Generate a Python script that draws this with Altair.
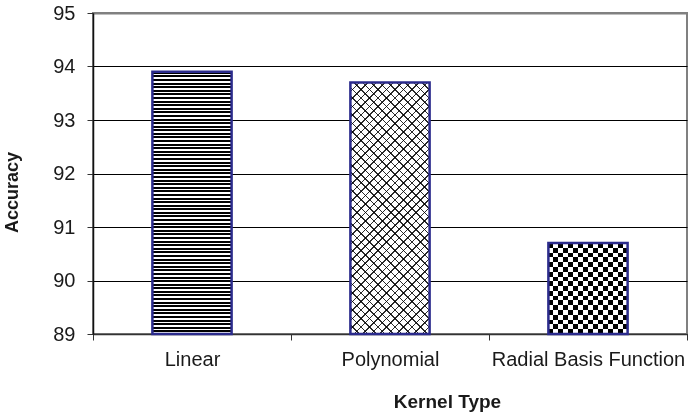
import math
import altair as alt
import pandas as pd

# Accuracy of an SVM classifier for each kernel type
kernels = ["Linear", "Polynomial", "Radial Basis Function"]
accuracy = [93.9, 93.7, 90.7]
y_ticks = [89, 90, 91, 92, 93, 94, 95]

df = pd.DataFrame({"kernel": kernels, "accuracy": accuracy})

# plot-area geometry (pixels) used to size the fill textures
W, H = 594, 321
Y_MIN, Y_MAX = y_ticks[0], y_ticks[-1]
PX_PER_UNIT = H / (Y_MAX - Y_MIN)
BAND = 0.4
BAR_W = W / len(kernels) * BAND

FONT = "Liberation Sans"
TEXT = "#1a1a1a"
NAVY = "#2b2b8c"


def bar_height(v):
    return (v - Y_MIN) * PX_PER_UNIT


def stripe_stops(n, first, second, frac):
    """n repeats of [first for frac of the period, second for the rest]."""
    stops = []
    for k in range(n):
        a, b, c = k / n, (k + frac) / n, (k + 1) / n
        stops += [
            {"offset": round(a, 5), "color": first},
            {"offset": round(b, 5), "color": first},
            {"offset": round(b, 5), "color": second},
            {"offset": round(c, 5), "color": second},
        ]
    return stops


def cell_stops(n, first, second):
    """n equal cells alternating between two colours."""
    stops = []
    for k in range(n):
        col = first if k % 2 == 0 else second
        stops += [
            {"offset": round(k / n, 5), "color": col},
            {"offset": round((k + 1) / n, 5), "color": col},
        ]
    return stops


def diagonal(w, h, period, line_px, color, rising):
    """45-degree hatch lines inside a w x h box (bounding-box gradient units)."""
    s = (w + h) / (w * w + h * h)
    span = (w + h) / math.sqrt(2)
    n = max(1, round(span / period))
    frac = line_px / (span / n)
    stops = stripe_stops(n, color, "#ffffff", frac)
    if rising:
        x1, y1, x2, y2 = 0, 0, s * w, s * h
    else:
        x1, y1, x2, y2 = 0, 1, s * w, 1 - s * h
    return {"gradient": "linear", "x1": x1, "y1": y1, "x2": x2, "y2": y2, "stops": stops}


# Linear: horizontal black/white stripes
h_lin = bar_height(accuracy[0])
lin_fill = {
    "gradient": "linear", "x1": 0, "y1": 0, "x2": 0, "y2": 1,
    "stops": stripe_stops(round(h_lin / 3.6), "#000000", "#ffffff", 0.55),
}

# Polynomial: fine cross-hatched mesh
h_poly = bar_height(accuracy[1])
poly_a = diagonal(BAR_W, h_poly, 6.0, 1.1, "#2a2a2a", True)
poly_b = diagonal(BAR_W, h_poly, 6.0, 1.1, "#2a2a2a", False)

# Radial Basis Function: checkerboard from rows XOR columns
h_rbf = bar_height(accuracy[2])
rbf_rows = {
    "gradient": "linear", "x1": 0, "y1": 0, "x2": 0, "y2": 1,
    "stops": cell_stops(round(h_rbf / 4.8), "#000000", "#ffffff"),
}
rbf_cols = {
    "gradient": "linear", "x1": 0, "y1": 0, "x2": 1, "y2": 0,
    "stops": cell_stops(16, "#000000", "#ffffff"),
}

x_enc = alt.X(
    "kernel:N",
    sort=kernels,
    scale=alt.Scale(paddingInner=0, paddingOuter=0),
    axis=alt.Axis(
        title="Kernel Type",
        labelAngle=0,
        labelFont=FONT,
        labelFontSize=20,
        labelColor=TEXT,
        labelPadding=9,
        labelLimit=400,
        tickBand="extent",
        tickSize=6,
        tickColor="#333333",
        domainColor="#333333",
        domainWidth=1.5,
        titleFont=FONT,
        titleFontSize=19,
        titleFontWeight="bold",
        titleColor=TEXT,
        titleAlign="center",
        titleBaseline="alphabetic",
        titleAnchor="start",
        titleX=354,
        titleY=73,
    ),
)
y_enc = alt.Y(
    "accuracy:Q",
    scale=alt.Scale(domain=[Y_MIN, Y_MAX], zero=False, nice=False),
    axis=alt.Axis(
        title="Accuracy",
        values=y_ticks,
        format="d",
        labelFont=FONT,
        labelFontSize=20,
        labelColor=TEXT,
        labelPadding=12,
        tickSize=6,
        tickColor="#333333",
        domainColor="#111111",
        domainWidth=1.5,
        gridColor={"condition": {"test": "datum.value >= 95", "value": "#808080"}, "value": "#000000"},
        gridWidth={"condition": {"test": "datum.value >= 95", "value": 2}, "value": 1},
        titleFont=FONT,
        titleFontSize=18,
        titleFontWeight="bold",
        titleColor=TEXT,
        titleAngle=270,
        titleAlign="center",
        titleBaseline="middle",
        titleAnchor="start",
        titleX=-81,
        titleY=179,
    ),
)

base = alt.Chart(df).encode(x=x_enc, y=y_enc, y2=alt.datum(Y_MIN))
bw = alt.RelativeBandSize(band=BAND)


def only(name):
    return alt.datum.kernel == name


linear = base.transform_filter(only("Linear")).mark_bar(width=bw, fill=lin_fill)
poly1 = base.transform_filter(only("Polynomial")).mark_bar(width=bw, fill=poly_a)
poly2 = base.transform_filter(only("Polynomial")).mark_bar(width=bw, fill=poly_b, blend="multiply")
rbf1 = base.transform_filter(only("Radial Basis Function")).mark_bar(width=bw, fill=rbf_rows)
rbf2 = base.transform_filter(only("Radial Basis Function")).mark_bar(
    width=bw, fill=rbf_cols, blend="difference"
)
outline = base.mark_bar(width=bw, filled=False, stroke=NAVY, strokeWidth=2.5)

chart = (
    alt.layer(linear, poly1, poly2, rbf1, rbf2, outline)
    .properties(
        width=W,
        height=H,
        padding={"left": 93, "top": 13, "right": 1, "bottom": 83},
        autosize=alt.AutoSizeParams(type="none"),
        background="#ffffff",
    )
    .configure_view(stroke="#808080", strokeWidth=2)
)

chart.save("out.html", embed_options={"renderer": "svg", "actions": False})
